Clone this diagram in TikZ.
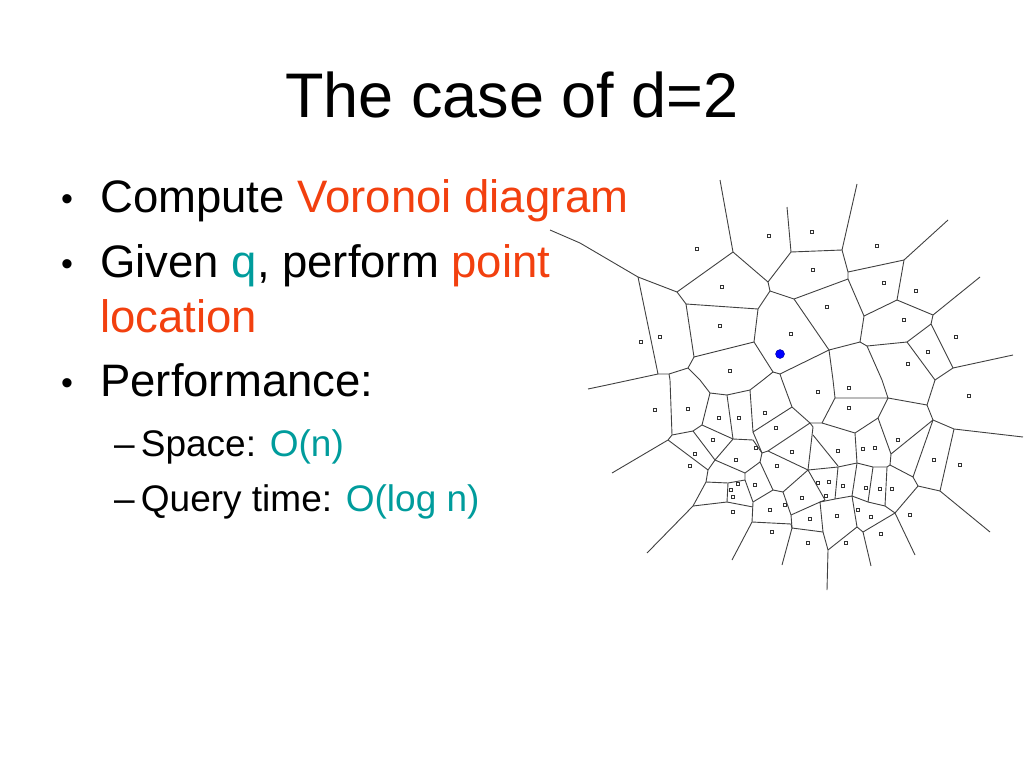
\documentclass[tikz,border=0pt]{standalone}
\usepackage{fontspec}
\setmainfont{Liberation Sans}
\definecolor{hot}{HTML}{F2400F}
\definecolor{teal2}{HTML}{009C9C}
\begin{document}
\begin{tikzpicture}[x=1pt,y=-1pt,
  vor/.style={draw=black!75,line width=0.9pt,line join=round},
  site/.style={draw=black!80,line width=0.5pt,minimum size=3pt,inner sep=0pt},
  txt/.style={anchor=base west,inner sep=0pt,font=\fontsize{45.5}{50}\selectfont},
  bul/.style={anchor=base,inner sep=0pt,font=\fontsize{34}{40}\selectfont},
  sub/.style={anchor=base west,inner sep=0pt,font=\fontsize{37}{42}\selectfont}]
\useasboundingbox (0,0) rectangle (1024,768);
\node[anchor=base,inner sep=0pt,font=\fontsize{63}{68}\selectfont] (title) at (512,117) {The case of d=2};
\node[bul] (b1) at (67,210) {\textbullet};
\node[txt] (t1) at (100,212) {Compute \textcolor{hot}{Voronoi diagram}};
\node[bul] (b2) at (67,275) {\textbullet};
\node[txt] (t2) at (100,277) {Given \textcolor{teal2}{q}, perform \textcolor{hot}{point}};
\node[txt] (t2b) at (100,332) {\textcolor{hot}{location}};
\node[bul] (b3) at (67,394) {\textbullet};
\node[txt] (t3) at (100,396) {Performance:};
\node[sub] (s1) at (114,456) {\textendash\,Space: \textcolor{teal2}{O(n)}};
\node[sub] (s2) at (114,511) {\textendash\,Query time: \textcolor{teal2}{O(log n)}};
% Voronoi edges
\draw[vor] (720,180)--(733,252);
\draw[vor] (550,230)--(580,243)--(638,277)--(677,292)--(733,252)--(768,282);
\draw[vor] (787,207)--(791,252)--(842,250)--(857,184);
\draw[vor] (791,252)--(768,282)--(770,291)--(794,299)--(848,279)--(848,272)--(842,250);
\draw[vor] (848,272)--(904,260)--(948,220);
\draw[vor] (904,260)--(897,300)--(933,315)--(980,277);
\draw[vor] (848,279)--(864,316)--(897,300);
\draw[vor] (933,315)--(931,324)--(907,342)--(867,346)--(860,342)--(864,316);
\draw[vor] (860,342)--(829,350)--(794,299);
\draw[vor] (829,350)--(780,374)--(773,372)--(754,342)--(758,309)--(770,291);
\draw[vor] (758,309)--(686,304)--(677,292);
\draw[vor] (686,304)--(694,357)--(754,342);
\draw[vor] (638,277)--(658,374)--(607,385)--(588,389);
\draw[vor] (694,357)--(688,368)--(669,374)--(658,374);
\draw[vor] (669,374)--(670,380)--(672,435);
\draw[vor] (688,368)--(700,380)--(710,393)--(727,395)--(750,390)--(763,380)--(773,372);
\draw[vor] (780,374)--(782,380)--(792,407)--(810,423);
\draw[vor] (829,350)--(833,380)--(835,398)--(888,398)--(882,380)--(867,346);
\draw[vor] (931,324)--(953,368)--(1013,355);
\draw[vor] (907,342)--(935,380)--(927,405);
\draw[vor] (953,368)--(935,380);
\draw[vor] (888,398)--(927,405)--(933,420);
\draw[vor] (835,398)--(822,423)--(810,423);
\draw[vor] (822,423)--(855,433)--(878,418)--(888,398);
\draw[vor] (878,418)--(891,454)--(933,420)--(954,429)--(1023,437);
\draw[vor] (954,429)--(940,491)--(990,532);
\draw[vor] (933,420)--(913,477)--(890,465)--(891,454);
\draw[vor] (913,477)--(918,486)--(940,491);
\draw[vor] (918,486)--(895,513)--(915,555);
\draw[vor] (895,513)--(863,532)--(871,566);
\draw[vor] (863,532)--(857,527)--(828,550)--(827,590);
\draw[vor] (828,550)--(823,532)--(792,528)--(782,565);
\draw[vor] (792,528)--(791,515)--(783,492)--(773,490)--(753,502)--(752,522)--(732,560);
\draw[vor] (752,522)--(791,524)--(792,528);
\draw[vor] (791,515)--(820,502)--(823,532);
\draw[vor] (820,502)--(835,499)--(852,496)--(857,527);
\draw[vor] (852,496)--(857,463)--(855,433);
\draw[vor] (852,496)--(868,502)--(885,506)--(895,513);
\draw[vor] (857,463)--(873,467)--(887,467)--(890,465);
\draw[vor] (873,467)--(868,502); \draw[vor] (887,467)--(885,506);
\draw[vor] (857,463)--(838,467)--(808,470);
\draw[vor] (838,467)--(835,499);
\draw[vor] (810,423)--(813,427)--(808,470);
\draw[vor] (813,435)--(838,466);
\draw[vor] (808,470)--(825,500)--(820,502);
\draw[vor] (808,470)--(783,492);
\draw[vor] (808,470)--(768,451)--(810,423);
\draw[vor] (792,407)--(753,432)--(750,390);
\draw[vor] (753,432)--(762,453)--(768,451);
\draw[vor] (762,453)--(760,462)--(773,490);
\draw[vor] (760,462)--(745,473);
\draw[vor] (727,395)--(733,439)--(753,440)--(762,453);
\draw[vor] (710,393)--(702,425)--(693,431)--(672,435)--(668,440)--(612,473);
\draw[vor] (702,425)--(733,439);
\draw[vor] (668,440)--(708,470);
\draw[vor] (693,431)--(715,460)--(733,439);
\draw[vor] (715,460)--(745,473)--(745,480)--(753,502);
\draw[vor] (715,460)--(708,470)--(706,482)--(693,506)--(647,553);
\draw[vor] (706,482)--(728,483)--(745,480);
\draw[vor] (693,506)--(727,502)--(753,507);
\draw[vor] (728,483)--(727,502);
% sites
\foreach \p [count=\i] in {(697,249),(769,236),(812,232),(877,246),(813,270),(884,283),(916,291),(722,287),(827,307),(904,320),(641,342),(660,337),(720,326),(791,334),(928,352),(956,337),(730,371),(908,364),(818,392),(849,388),(969,396),(655,410),(688,409),(719,418),(739,418),(765,413),(776,428),(713,440),(792,452),(849,408),(898,440),(934,460),(960,465),(695,454),(736,460),(756,448),(777,466),(838,451),(863,449),(875,448),(690,466),(738,484),(755,485),(818,483),(829,482),(843,486),(866,488),(880,489),(892,489),(733,497),(731,490),(785,505),(802,498),(826,496),(858,510),(910,515),(770,510),(810,519),(837,516),(871,517),(733,512),(772,532),(808,543),(846,543),(881,534)}
  \node[site] (s\i) at \p {};
\node[circle,fill=blue,draw=blue!60!black,minimum size=9pt,inner sep=0pt] (q) at (780,354) {};
\end{tikzpicture}
\end{document}
